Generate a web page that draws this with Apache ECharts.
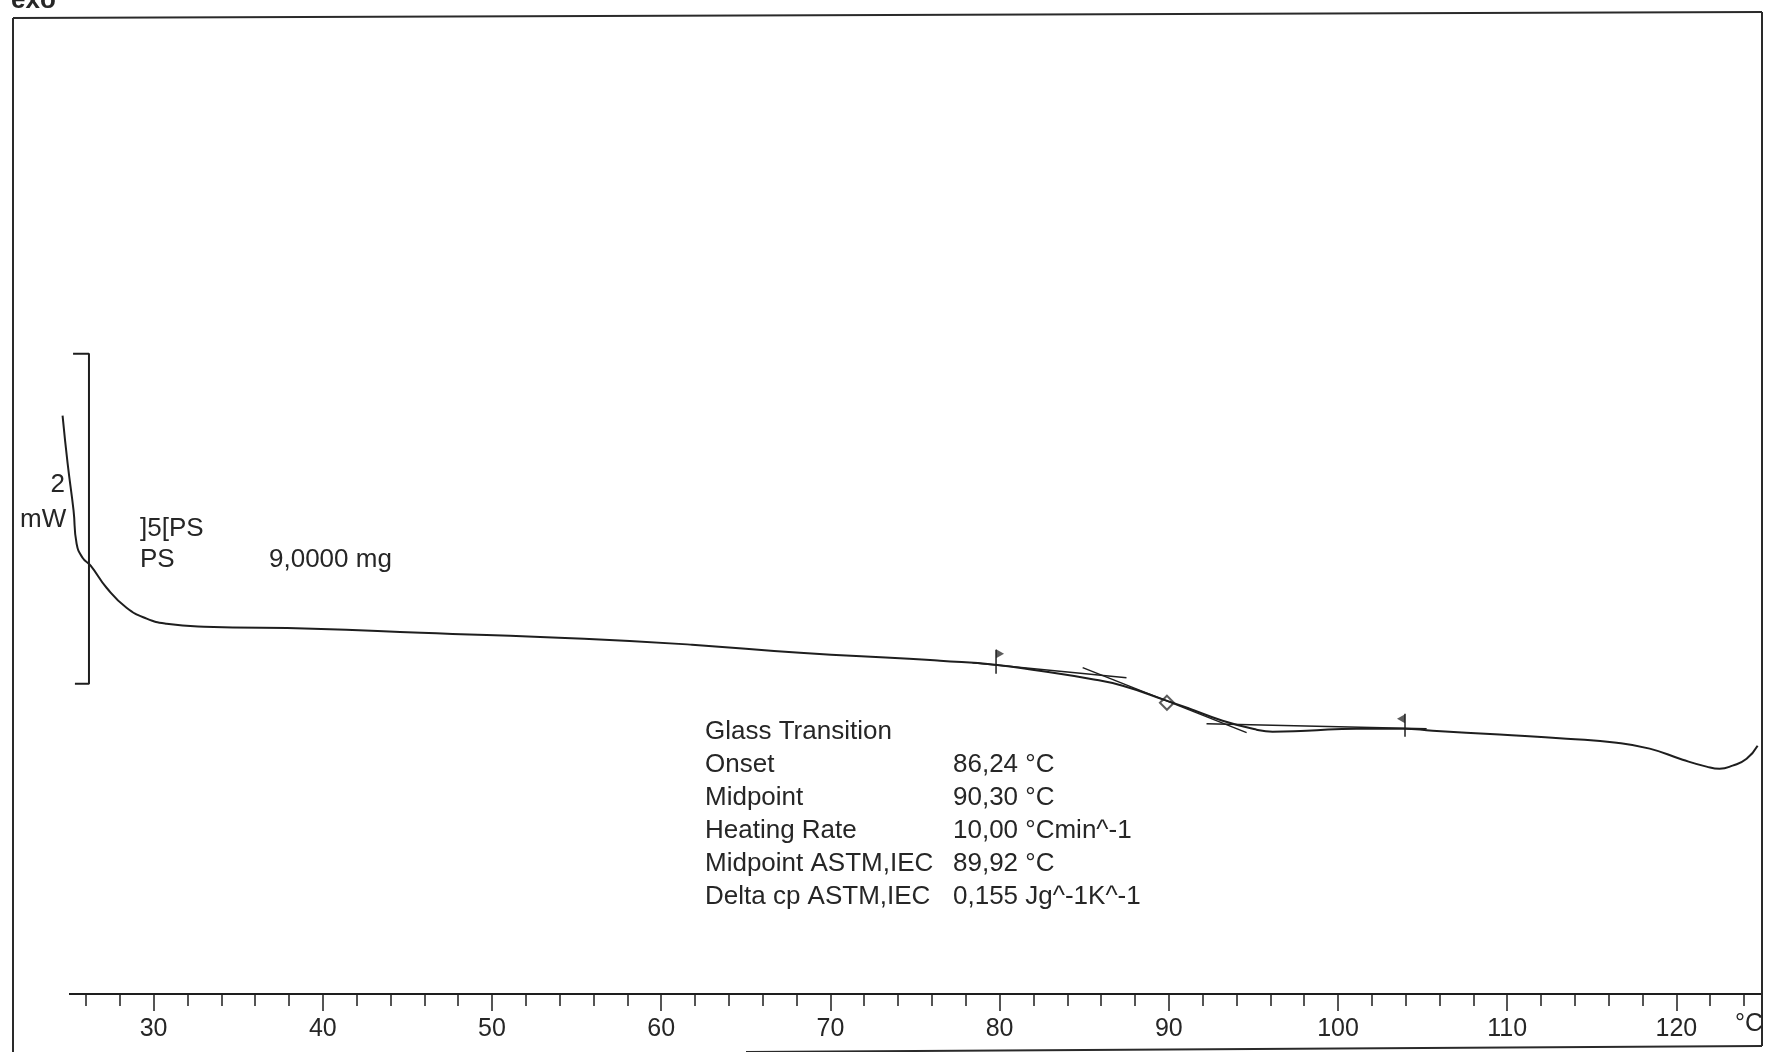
<!DOCTYPE html>
<html>
<head>
<meta charset="utf-8">
<script src="https://cdn.jsdelivr.net/npm/echarts@6/dist/echarts.min.js"></script>
<style>
html,body{margin:0;padding:0;background:#ffffff;}
#chart{width:1765px;height:1052px;}
</style>
</head>
<body>
<div id="chart"></div>
<script>
// ---- DSC curve (temperature °C, heat flow mW, exo up) ----
const temperature = [24.62, 24.92, 25.27, 25.45, 25.80, 26.28, 27.22, 28.40, 29.59, 30.77,
  32.98, 39.42, 45.80, 55.44, 61.82, 68.20, 74.65, 76.48, 79.73, 82.36,
  85.32, 87.27, 89.87, 91.23, 93.18, 95.19, 96.13, 98.14, 101.10, 103.82,
  105.59, 109.55, 113.51, 116.47, 118.42, 120.37, 121.78, 122.55, 123.32, 124.15, 124.80];
const heatFlow = [3.585, 3.294, 3.009, 2.809, 2.724, 2.676, 2.542, 2.421, 2.355, 2.324,
  2.306, 2.294, 2.270, 2.233, 2.197, 2.148, 2.112, 2.100, 2.076, 2.039,
  1.991, 1.948, 1.858, 1.809, 1.736, 1.682, 1.670, 1.676, 1.688, 1.688,
  1.676, 1.652, 1.627, 1.603, 1.567, 1.500, 1.458, 1.445, 1.464, 1.506, 1.585];

// ---- Glass transition evaluation lines ----
const upperBaselineT = [78.40, 87.50];
const upperBaselineV = [2.088, 1.997];
const tangentT = [84.91, 94.60];
const tangentV = [2.058, 1.664];
const lowerBaselineT = [92.23, 105.24];
const lowerBaselineV = [1.718, 1.688];
const leftLimitT = [79.79, 79.79];
const leftLimitV = [2.167, 2.021];
const rightLimitT = [103.96, 103.96];
const rightLimitV = [1.779, 1.639];
const leftFlag = [79.79, 2.142];
const rightFlag = [103.96, 1.748];
const midpointMark = [89.89, 1.845];

// ---- Scale bar (2 mW) ----
const scaleBarT = [25.24, 26.18, 26.18, 25.35];
const scaleBarV = [3.961, 3.961, 1.961, 1.961];

// ---- Axis ----
const axisStart = 25;
const axisEnd = 125;
const minorTicks = [26,28,30,32,34,36,38,40,42,44,46,48,50,52,54,56,58,60,62,64,66,68,70,72,74,76,78,80,82,84,86,88,90,92,94,96,98,100,102,104,106,108,110,112,114,116,118,120,122,124];
const majorTicks = [30,40,50,60,70,80,90,100,110,120];

// ---- Texts ----
const sampleLines = [']5[PS', 'PS'];
const sampleMass = '9,0000 mg';
const resultLabels = ['Glass Transition', 'Onset', 'Midpoint', 'Heating Rate', 'Midpoint ASTM,IEC', 'Delta cp ASTM,IEC'];
const resultValues = ['', '86,24 °C', '90,30 °C', '10,00 °Cmin^-1', '89,92 °C', '0,155 Jg^-1K^-1'];

const FONT = '"Liberation Sans", Arial, sans-serif';
const INK = '#1e1e1e';
const TXT = '#262626';
const Y_MIN = 0.08, Y_MAX = 6.0;

function zip(a, b) { return a.map((v, i) => [v, b[i]]); }

function lineSeries(data, width, extra) {
  return Object.assign({
    type: 'line', xAxisIndex: 0, yAxisIndex: 0, data: data,
    symbol: 'none', silent: true, animation: false, clip: false,
    lineStyle: { color: INK, width: width }
  }, extra || {});
}

function txt(x, y, s, opts) {
  return {
    type: 'text', x: x, y: y, silent: true,
    style: Object.assign({
      text: s, fill: TXT, font: '26px ' + FONT,
      align: 'left', verticalAlign: 'middle'
    }, opts || {})
  };
}

const graphics = [
  // frame
  { type: 'line', shape: { x1: 13, y1: 18, x2: 1762, y2: 12 }, style: { stroke: '#2a2a2a', lineWidth: 2 } },
  { type: 'line', shape: { x1: 13, y1: 18, x2: 13, y2: 1052 }, style: { stroke: '#2a2a2a', lineWidth: 2 } },
  { type: 'line', shape: { x1: 1762, y1: 12, x2: 1762, y2: 1046 }, style: { stroke: '#2a2a2a', lineWidth: 2 } },
  { type: 'line', shape: { x1: 746, y1: 1052, x2: 1762, y2: 1046 }, style: { stroke: '#2a2a2a', lineWidth: 2 } },
  txt(11, 1, 'exo', { font: 'bold 26px ' + FONT }),
  txt(65, 485, '2', { align: 'right' }),
  txt(20, 520, 'mW'),
  txt(140, 529, sampleLines[0]),
  txt(140, 560, sampleLines[1]),
  txt(269, 560, sampleMass),
  txt(1735, 1024, '°C', { font: '25px ' + FONT })
];
resultLabels.forEach((s, i) => graphics.push(txt(705, 732 + 33 * i, s)));
resultValues.forEach((s, i) => { if (s) graphics.push(txt(953, 732 + 33 * i, s)); });

const X_MIN = 24.5;
const chart = echarts.init(document.getElementById('chart'), null, { renderer: 'canvas' });
chart.setOption({
  animation: false,
  backgroundColor: '#ffffff',
  grid: { left: 60.54, right: 4, top: 17.2, bottom: 58 },
  xAxis: [
    {
      type: 'value', min: X_MIN, max: axisEnd, position: 'bottom',
      axisLine: { show: false, onZero: false },
      axisTick: { show: true, customValues: minorTicks, length: 12, lineStyle: { color: INK, width: 1.5 } },
      axisLabel: { show: false },
      splitLine: { show: false }
    },
    {
      type: 'value', min: X_MIN, max: axisEnd, position: 'bottom',
      axisLine: { show: false, onZero: false },
      axisTick: { show: true, customValues: majorTicks, length: 17, lineStyle: { color: INK, width: 1.5 } },
      axisLabel: { show: true, customValues: majorTicks, margin: 23, fontSize: 25, fontFamily: FONT, color: TXT },
      splitLine: { show: false }
    }
  ],
  yAxis: { type: 'value', min: Y_MIN, max: Y_MAX, show: false, splitLine: { show: false } },
  series: [
    lineSeries(zip(temperature, heatFlow), 2, {
      smooth: 0.5,
      markLine: {
        silent: true, symbol: 'none', animation: false,
        label: { show: false },
        lineStyle: { type: 'solid', color: INK, width: 2 },
        data: [[{ coord: [axisStart, Y_MIN] }, { coord: [axisEnd, Y_MIN] }]]
      }
    }),
    lineSeries(zip(upperBaselineT, upperBaselineV), 1.5),
    lineSeries(zip(tangentT, tangentV), 1.5),
    lineSeries(zip(lowerBaselineT, lowerBaselineV), 1.5),
    lineSeries(zip(leftLimitT, leftLimitV), 1.5),
    lineSeries(zip(rightLimitT, rightLimitV), 1.5),
    lineSeries(zip(scaleBarT, scaleBarV), 2),
    {
      type: 'scatter', silent: true, animation: false,
      data: [leftFlag],
      symbol: 'path://M0,0L10,5L0,10Z', symbolSize: [8, 9], symbolOffset: [4, 0],
      itemStyle: { color: '#333' }
    },
    {
      type: 'scatter', silent: true, animation: false,
      data: [rightFlag],
      symbol: 'path://M10,0L0,5L10,10Z', symbolSize: [8, 9], symbolOffset: [-4, 0],
      itemStyle: { color: '#333' }
    },
    {
      type: 'scatter', silent: true, animation: false,
      data: [midpointMark],
      symbol: 'emptyDiamond', symbolSize: 14,
      itemStyle: { color: '#333', borderColor: '#333', borderWidth: 1.5 }
    }
  ],
  graphic: graphics
});
</script>
</body>
</html>
